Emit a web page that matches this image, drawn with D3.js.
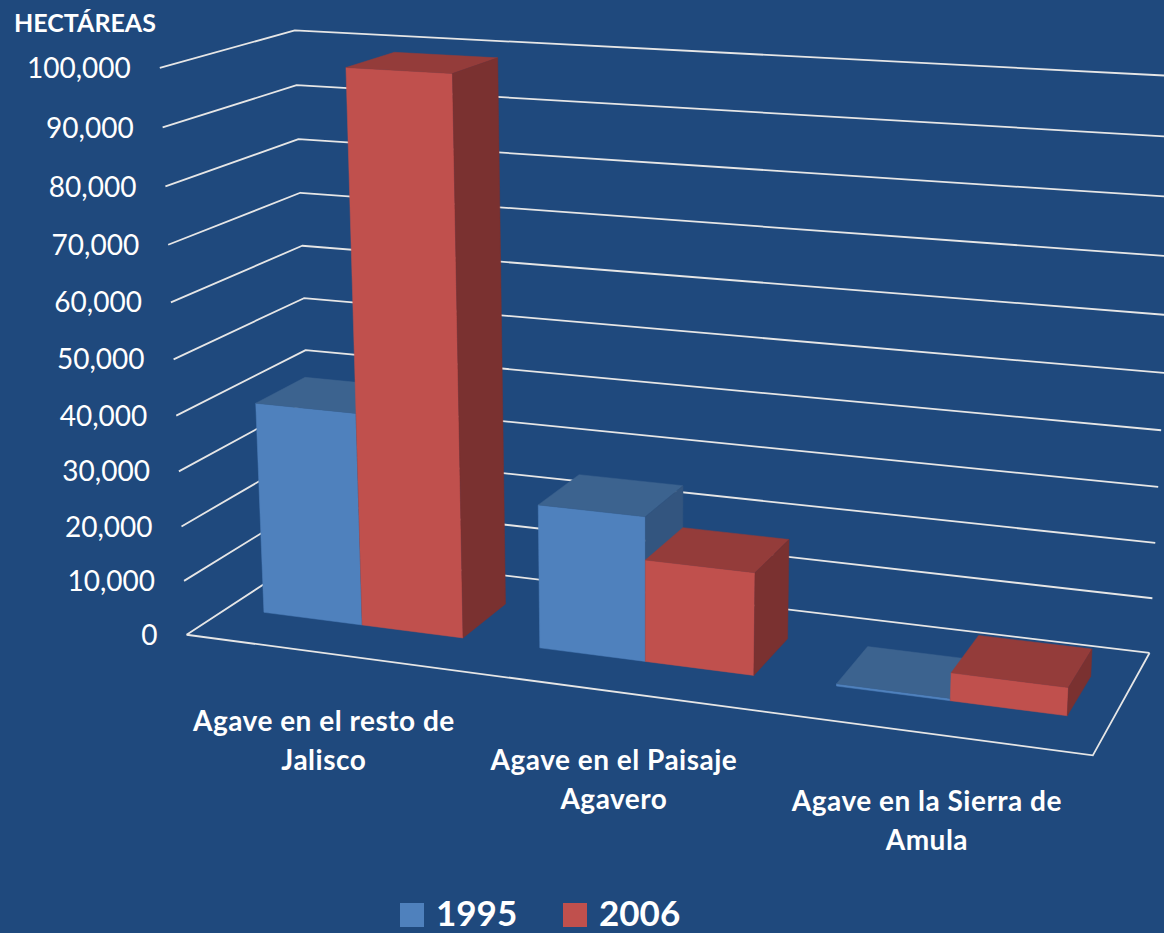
<!DOCTYPE html>
<html><head><meta charset="utf-8">
<script src="https://cdn.jsdelivr.net/npm/d3@7"></script>
<style>body{margin:0;background:#1F497D;} svg{display:block;}</style>
</head><body>
<svg id="c" width="1164" height="933"></svg>
<script>
const categories = ["Agave en el resto de Jalisco","Agave en el Paisaje Agavero","Agave en la Sierra de Amula"];
const categoryLines = [["Agave en el resto de","Jalisco"],["Agave en el Paisaje","Agavero"],["Agave en la Sierra de","Amula"]];
const series = ["1995","2006"];
const values1995 = [39000, 26000, 400];
const values2006 = [99300, 18300, 4900];
const yTicks = [0,10000,20000,30000,40000,50000,60000,70000,80000,90000,100000];
const colors = {"1995":{front:"#4F81BD",top:"#3C638F",side:"#33557F"},"2006":{front:"#C0504D",top:"#943C3A",side:"#7A3130"}};

// perspective camera (3x4 projection, world X: category axis 0..1, Y: value 0..1, Z: depth 0..1)
const camera = [0.7885075,-0.0356449,0.1540622,0.1866129,0.0392659,-0.5706905,-0.0325914,0.6347389,-0.1077088,-0.0553024,0.0900095];
function proj(X,Y,Z){const P=camera;const w=P[8]*X+P[9]*Y+P[10]*Z+1;return [1000*(P[0]*X+P[1]*Y+P[2]*Z+P[3])/w,1000*(P[4]*X+P[5]*Y+P[6]*Z+P[7])/w];}

const svg=d3.select('#c');
const y=d3.scaleLinear().domain([0,100000]).range([0,1]);
const x0=d3.scaleBand().domain(categories).range([0,1]);
const x1=d3.scaleBand().domain(series).range([0,x0.bandwidth()]).paddingInner(0).paddingOuter(0.372);
const zBar=d3.scaleLinear().domain([0,1]).range([0.31,0.70]);
const line=d3.line();
const gridColor="#E6E6E6";
const grid=svg.append('g');
yTicks.forEach(t=>{grid.append('path').attr('d',line([proj(0,y(t),0),proj(0,y(t),1),proj(1,y(t),1)])).attr('fill','none').attr('stroke',gridColor).attr('stroke-width',1.8).attr('stroke-linejoin','round');});
grid.append('path').attr('d',line([proj(0,0,0),proj(1,0,0),proj(1,0,1)])).attr('fill','none').attr('stroke',gridColor).attr('stroke-width',1.8);

// tick labels
svg.append('g').selectAll('text').data(yTicks).join('text')
 .attr('x',d=>proj(0,y(d),0)[0]-29).attr('y',d=>proj(0,y(d),0)[1]).attr('dy','0.36em')
 .attr('text-anchor','end').attr('fill','#fff').style('font-family','Lato').style('font-size','28px')
 .text(d=>d3.format(',')(d));
svg.append('text').attr('x',14).attr('y',32).attr('fill','#fff').style('font-family','Lato').style('font-weight','bold').style('font-size','25px').text('HECTÁREAS');

// bars
const bars=[];
categories.forEach((c,i)=>{series.forEach(s=>{bars.push({c,s,v:(s==="1995"?values1995:values2006)[i]});});});
const gBars=svg.append('g');
bars.forEach(b=>{
 const xa=x0(b.c)+x1(b.s), xb=xa+x1.bandwidth(), za=zBar(0), zb=zBar(1), h=y(b.v);
 const col=colors[b.s];
 const faces=[
  {pts:[[xa,0,za],[xb,0,za],[xb,h,za],[xa,h,za]],fill:col.front},
  {pts:[[xa,h,za],[xb,h,za],[xb,h,zb],[xa,h,zb]],fill:col.top},
  {pts:[[xb,0,za],[xb,0,zb],[xb,h,zb],[xb,h,za]],fill:col.side}
 ];
 faces.forEach(f=>gBars.append('path').attr('d',line(f.pts.map(p=>proj(...p)))+'Z').attr('fill',f.fill).attr('stroke',f.fill).attr('stroke-width',0.5));
});

// category labels
categories.forEach((c,i)=>{
 const p=proj(x0(c)+x0.bandwidth()/2,0,0);
 const t=svg.append('text').attr('text-anchor','middle').attr('fill','#fff').style('font-family','Lato').style('font-weight','bold').style('font-size','28px').style('letter-spacing','0.5px');
 categoryLines[i].forEach((ln,j)=>t.append('tspan').attr('x',p[0]).attr('y',p[1]+78+j*39).text(ln));
});

// legend
const lg=svg.append('g');
series.forEach((s,i)=>{
 const gx=400+i*163;
 lg.append('rect').attr('x',gx).attr('y',903).attr('width',24).attr('height',24).attr('fill',colors[s].front);
 lg.append('text').attr('x',gx+36).attr('y',926).attr('fill','#fff').style('font-family','Lato').style('font-weight','bold').style('font-size','35px').text(s);
});
</script></body></html>
